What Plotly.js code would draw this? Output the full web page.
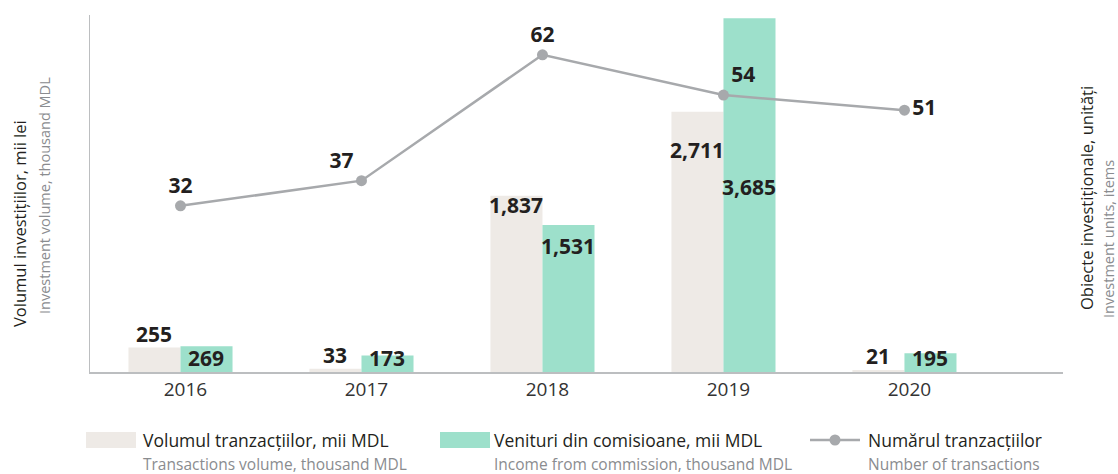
<!DOCTYPE html>
<html><head><meta charset="utf-8">
<script src="https://cdn.plot.ly/plotly-3.0.1.min.js"></script>
<style>html,body{margin:0;padding:0;background:#fff}</style>
</head><body><div id="chart" style="width:1118px;height:474px"></div>
<script>
// ---------------- data ----------------
const categories = ['2016', '2017', '2018', '2019', '2020'];
const volumeValues = [255, 33, 1837, 2711, 21];          // Volumul tranzacțiilor, mii MDL
const commissionValues = [269, 173, 1531, 3685, 195];    // Venituri din comisioane, mii MDL
const transactionCounts = [32, 37, 62, 54, 51];          // Numărul tranzacțiilor
const seriesNames = ['Volumul tranzacțiilor, mii MDL', 'Venituri din comisioane, mii MDL', 'Numărul tranzacțiilor'];
const seriesSubtitles = ['Transactions volume, thousand MDL', 'Income from commission, thousand MDL', 'Number of transactions'];
const leftTitle = ['Volumul investițiilor, mii lei', 'Investment volume, thousand MDL'];
const rightTitle = ['Obiecte investiționale, unități', 'Investment units, items'];

// ---------------- style ----------------
const W = 1118, H = 474, M = {l: 90, r: 55, t: 15, b: 102};
const PW = W - M.l - M.r, PH = H - M.t - M.b;
const px2x = px => (px - M.l) / PW;
const px2y = py => (H - M.b - py) / PH;
const FONT = "'Open Sans', 'Noto Sans', sans-serif";
const DARK = '#231f20', GREY_TXT = '#8a8c8f';
const C_VOL = '#eeeae6', C_COM = '#9de0cb', C_LINE = '#a7a9ac', C_AXIS = '#bcbec0';
const X_RANGE = [-0.5, 4.876];
const volLabelShift = [14, 14, -9, -38, 14];
const comLabelShift = [-12, -3, -21, -169, -5];
const lineTextPos = ['top center', 'top left', 'top center', 'top right', 'middle right'];
const BAR_HALF = 26;
const fmt = v => v.toLocaleString('en-US');

const traces = [
  {type: 'bar', x: categories, y: volumeValues, name: seriesNames[0], marker: {color: C_VOL},
   showlegend: false, hoverinfo: 'skip', xaxis: 'x', yaxis: 'y'},
  {type: 'bar', x: categories, y: commissionValues, name: seriesNames[1], marker: {color: C_COM},
   showlegend: false, hoverinfo: 'skip', xaxis: 'x', yaxis: 'y'},
  {type: 'scatter', mode: 'lines+markers+text', x: categories, y: transactionCounts, name: seriesNames[2],
   xaxis: 'x', yaxis: 'y2', line: {color: C_LINE, width: 2.5}, marker: {color: C_LINE, size: 11},
   text: transactionCounts.map(String), textposition: lineTextPos,
   textfont: {family: FONT, size: 21, color: DARK, weight: 700}, cliponaxis: false,
   showlegend: false, hoverinfo: 'skip'}
];

const annotations = [];
categories.forEach((c, i) => {
  // category axes take the serial index of the category
  annotations.push({xref: 'x', yref: 'y', x: i, y: volumeValues[i], xshift: -BAR_HALF, yshift: volLabelShift[i],
    text: '<b>' + fmt(volumeValues[i]) + '</b>', showarrow: false, xanchor: 'center', yanchor: 'middle',
    font: {family: FONT, size: 21, color: DARK}});
  annotations.push({xref: 'x', yref: 'y', x: i, y: commissionValues[i], xshift: BAR_HALF, yshift: comLabelShift[i],
    text: '<b>' + fmt(commissionValues[i]) + '</b>', showarrow: false, xanchor: 'center', yanchor: 'middle',
    font: {family: FONT, size: 21, color: DARK}});
});

// axis titles
function vtitle(lines, pxMain, pyMain, pxSub, pySub) {
  annotations.push({xref: 'paper', yref: 'paper', x: px2x(pxMain), y: px2y(pyMain), textangle: -90,
    text: lines[0], showarrow: false, xanchor: 'center', yanchor: 'middle', borderpad: 0,
    font: {family: FONT, size: 16.5, color: DARK}});
  annotations.push({xref: 'paper', yref: 'paper', x: px2x(pxSub), y: px2y(pySub), textangle: -90,
    text: lines[1], showarrow: false, xanchor: 'center', yanchor: 'middle', borderpad: 0,
    font: {family: FONT, size: 14.5, color: GREY_TXT}});
}
vtitle(leftTitle, 20, 224, 44, 196);
vtitle(rightTitle, 1087, 198, 1108, 239);

// legend (custom)
const legendItems = [
  {sw: [86, 136], tx: 141, kind: 'box', color: C_VOL},
  {sw: [440, 490], tx: 492, kind: 'box', color: C_COM},
  {sw: [810, 860], tx: 866, kind: 'line', color: C_LINE}
];
const shapes = [];
legendItems.forEach((it, i) => {
  if (it.kind === 'box') {
    shapes.push({type: 'rect', xref: 'paper', yref: 'paper', x0: px2x(it.sw[0]), x1: px2x(it.sw[1]),
      y0: px2y(448), y1: px2y(432), fillcolor: it.color, line: {width: 0}});
  } else {
    shapes.push({type: 'line', xref: 'paper', yref: 'paper', x0: px2x(it.sw[0]), x1: px2x(it.sw[1]),
      y0: px2y(440), y1: px2y(440), line: {color: it.color, width: 2.5}});
    const cx = (it.sw[0] + it.sw[1]) / 2;
    shapes.push({type: 'circle', xref: 'paper', yref: 'paper', x0: px2x(cx - 5.5), x1: px2x(cx + 5.5),
      y0: px2y(445.5), y1: px2y(434.5), fillcolor: it.color, line: {width: 0}});
  }
  annotations.push({xref: 'paper', yref: 'paper', x: px2x(it.tx), y: px2y(440), xanchor: 'left', yanchor: 'middle',
    text: seriesNames[i], showarrow: false, font: {family: FONT, size: 17.5, color: DARK}});
  annotations.push({xref: 'paper', yref: 'paper', x: px2x(it.tx), y: px2y(464), xanchor: 'left', yanchor: 'middle',
    text: seriesSubtitles[i], showarrow: false, font: {family: FONT, size: 15.5, color: GREY_TXT}});
});

const layout = {
  width: W, height: H, margin: M, paper_bgcolor: '#fff', plot_bgcolor: '#fff',
  font: {family: FONT, color: DARK},
  barmode: 'group', bargap: 0.425, bargroupgap: 0, showlegend: false,
  xaxis: {type: 'category', range: X_RANGE, showline: true, linecolor: C_AXIS, linewidth: 1.5,
    ticks: '', showgrid: false, zeroline: false, tickfont: {family: FONT, size: 19, color: '#333'},
    ticklabelshift: 5, fixedrange: true},
  xaxis2: {overlaying: 'x', anchor: 'y', side: 'bottom', type: 'linear', range: X_RANGE,
    tickmode: 'array', tickvals: [-0.5, 0.5, 1.5, 2.5, 3.5], ticks: 'outside', ticklen: 16, tickwidth: 1.5,
    tickcolor: C_AXIS, showticklabels: false, showgrid: false, zeroline: false, showline: false, fixedrange: true},
  yaxis: {range: [0, 3720], showline: true, linecolor: C_AXIS, linewidth: 1.5, ticks: '',
    showticklabels: false, showgrid: false, zeroline: false, fixedrange: true},
  yaxis2: {overlaying: 'y', side: 'right', range: [-1, 69.9], visible: false, fixedrange: true},
  annotations: annotations, shapes: shapes
};

Plotly.newPlot('chart', traces, layout, {staticPlot: true, displayModeBar: false});
</script>
</body></html>
